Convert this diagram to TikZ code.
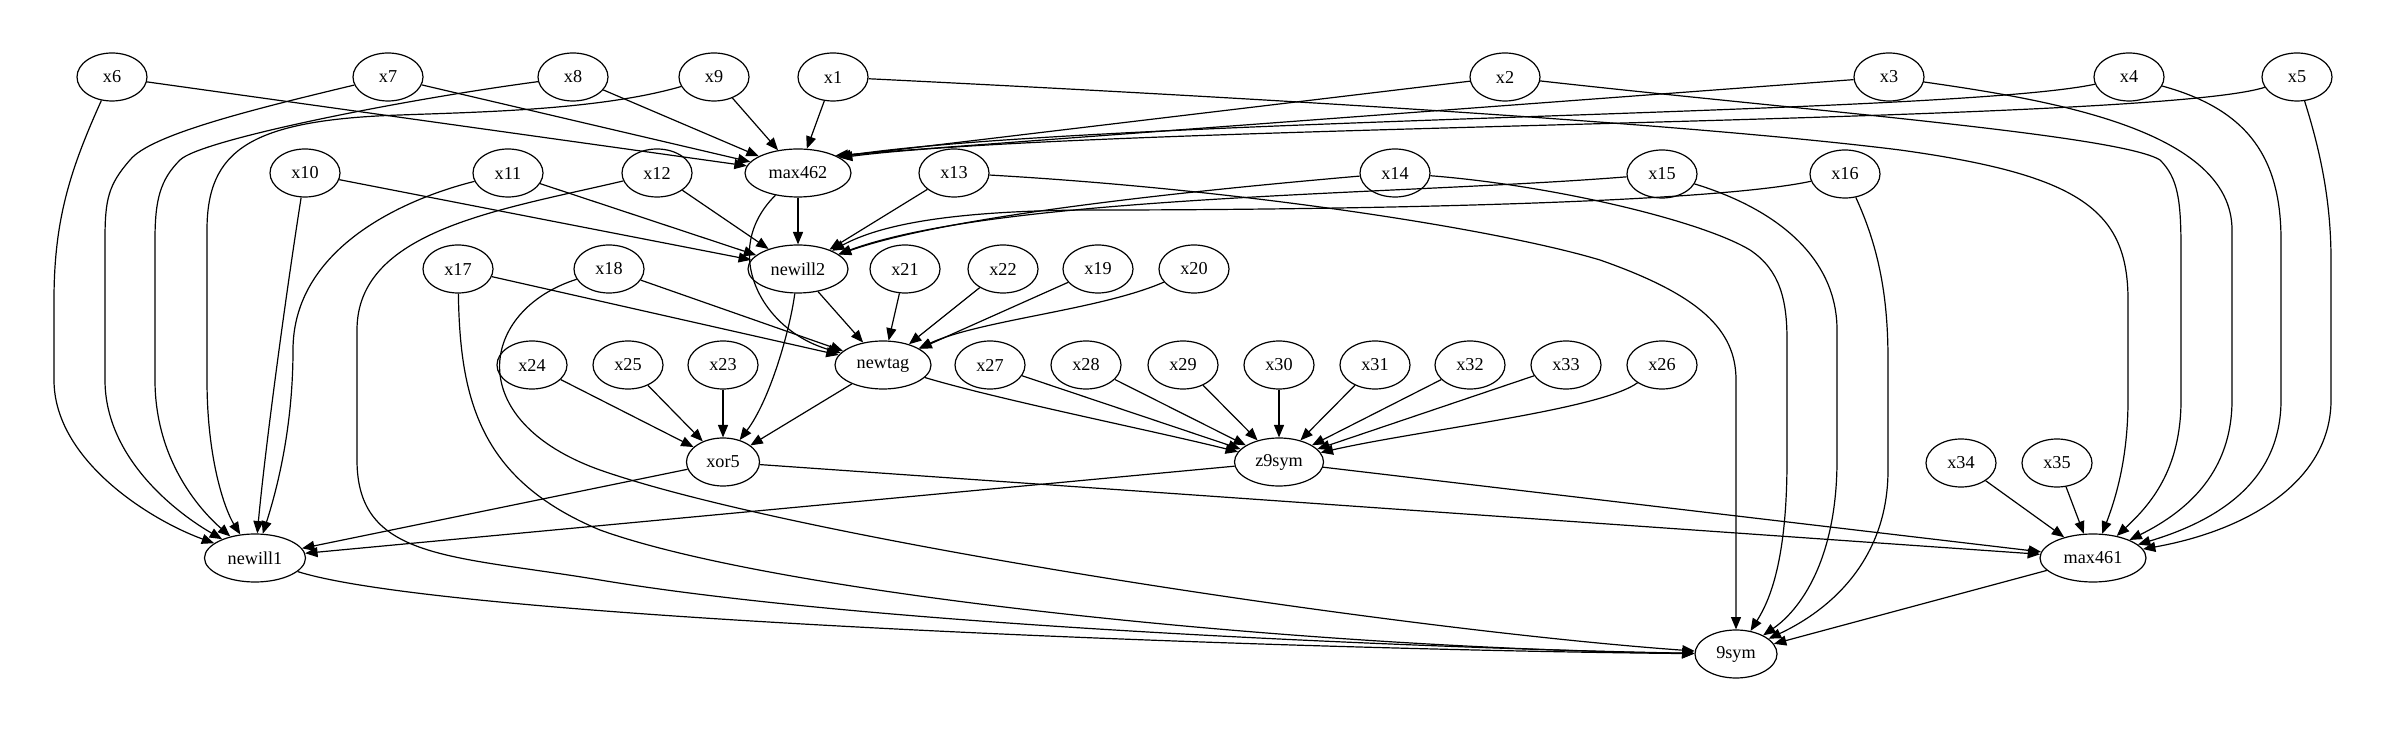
\documentclass[tikz,border=0pt]{standalone}
\usepackage{fontspec}
\setmainfont{Liberation Serif}
\usetikzlibrary{shapes.geometric,arrows.meta}
\begin{document}
\begin{tikzpicture}[x=0.5pt,y=-0.5pt,
 gn/.style={ellipse,draw,line width=0.6pt,inner sep=0pt,minimum width=35pt,minimum height=24pt,font=\fontsize{9.1}{10}\selectfont},
 e/.style={line width=0.6pt,-{Triangle[length=6.2pt,width=5pt]}}]
\useasboundingbox (0,0) rectangle (2387,731);
% row 1
\node[gn] (x6) at (112,77) {x6};
\node[gn] (x7) at (388,77) {x7};
\node[gn] (x8) at (573,77) {x8};
\node[gn] (x9) at (714,77) {x9};
\node[gn] (x1) at (833,77) {x1};
\node[gn] (x2) at (1505,77) {x2};
\node[gn] (x3) at (1889,77) {x3};
\node[gn] (x4) at (2129,77) {x4};
\node[gn] (x5) at (2297,77) {x5};
% row 2
\node[gn] (x10) at (305,173) {x10};
\node[gn] (x11) at (508,173) {x11};
\node[gn] (x12) at (657,173) {x12};
\node[gn,minimum width=53pt] (max462) at (798,173) {max462};
\node[gn] (x13) at (954,173) {x13};
\node[gn] (x14) at (1395,173) {x14};
\node[gn] (x15) at (1662,174) {x15};
\node[gn] (x16) at (1845,174) {x16};
% row 3
\node[gn] (x17) at (458,269) {x17};
\node[gn] (x18) at (609,269) {x18};
\node[gn,minimum width=50pt] (newill2) at (798,269) {newill2};
\node[gn] (x21) at (905,269) {x21};
\node[gn] (x22) at (1003,269) {x22};
\node[gn] (x19) at (1098,269) {x19};
\node[gn] (x20) at (1194,269) {x20};
% row 4
\node[gn] (x24) at (532,365) {x24};
\node[gn] (x25) at (628,365) {x25};
\node[gn] (x23) at (723,365) {x23};
\node[gn,minimum width=48pt] (newtag) at (883,365) {newtag};
\node[gn] (x27) at (990,365) {x27};
\node[gn] (x28) at (1086,365) {x28};
\node[gn] (x29) at (1183,365) {x29};
\node[gn] (x30) at (1279,365) {x30};
\node[gn] (x31) at (1375,365) {x31};
\node[gn] (x32) at (1470,365) {x32};
\node[gn] (x33) at (1566,365) {x33};
\node[gn] (x26) at (1662,365) {x26};
% row 5
\node[gn,minimum width=36.5pt] (xor5) at (723,462) {xor5};
\node[gn,minimum width=44.5pt] (z9sym) at (1279,462) {z9sym};
\node[gn] (x34) at (1961,463) {x34};
\node[gn] (x35) at (2057,463) {x35};
% row 6
\node[gn,minimum width=50.5pt] (newill1) at (255,558) {newill1};
\node[gn,minimum width=53pt] (max461) at (2093,558) {max461};
% row 7
\node[gn,minimum width=41pt] (9sym) at (1736,654) {9sym};

% into max462
\draw[e] (x6) -- (max462);
\draw[e] (x7) -- (max462);
\draw[e] (x8) -- (max462);
\draw[e] (x9) -- (max462);
\draw[e] (x1) -- (max462);
\draw[e] (x2) -- (max462.22);
\draw[e] (x3) -- (max462.25);
\draw[e] (x4) .. controls (1950,115) and (1100,118) .. (max462.22);
\draw[e] (x5) .. controls (2150,124) and (1100,124) .. (max462.20);

% into max461
\draw[e] (x1) .. controls (1300,100) and (1700,125) .. (1900,150) .. controls (2080,175) and (2128,210) .. (2128,300) -- (2128,400) .. controls (2128,460) and (2115,500) .. (max461);
\draw[e] (x2) .. controls (1800,110) and (2120,135) .. (2160,160) .. controls (2178,178) and (2181,200) .. (2181,250) -- (2181,400) .. controls (2181,470) and (2150,505) .. (max461);
\draw[e] (x3) .. controls (2050,100) and (2232,130) .. (2232,230) -- (2232,400) .. controls (2232,470) and (2190,510) .. (max461);
\draw[e] (x4) .. controls (2250,110) and (2281,160) .. (2281,240) -- (2281,400) .. controls (2281,480) and (2220,520) .. (max461);
\draw[e] (x5) .. controls (2320,150) and (2331,200) .. (2331,260) -- (2331,400) .. controls (2331,480) and (2250,530) .. (max461);
\draw[e] (x34) -- (max461);
\draw[e] (x35) -- (max461);
\draw[e] (xor5) -- (max461);
\draw[e] (z9sym) -- (max461);

% into newill1
\draw[e] (x6) .. controls (70,170) and (54,220) .. (54,300) -- (54,380) .. controls (54,460) and (150,520) .. (newill1);
\draw[e] (x7) .. controls (250,110) and (150,135) .. (130,160) .. controls (108,185) and (105,200) .. (105,240) -- (105,380) .. controls (105,460) and (180,515) .. (newill1);
\draw[e] (x8) .. controls (400,100) and (200,140) .. (180,160) .. controls (160,180) and (155,200) .. (155,240) -- (155,380) .. controls (155,460) and (200,510) .. (newill1);
\draw[e] (x9) .. controls (600,110) and (480,112) .. (400,115) .. controls (250,120) and (207,150) .. (207,230) -- (207,380) .. controls (207,460) and (225,510) .. (newill1);
\draw[e] (x10) .. controls (285,300) and (265,450) .. (newill1);
\draw[e] (x11) .. controls (400,200) and (293,250) .. (293,350) .. controls (293,420) and (280,480) .. (newill1);
\draw[e] (xor5) -- (newill1);
\draw[e] (z9sym) -- (newill1);

% into newill2
\draw[e] (max462) -- (newill2);
\draw[e] (x10) -- (newill2);
\draw[e] (x11) -- (newill2);
\draw[e] (x12) -- (newill2);
\draw[e] (x13) -- (newill2);
\draw[e] (x14) .. controls (1200,190) and (950,215) .. (newill2);
\draw[e] (x15) .. controls (1400,195) and (1000,195) .. (newill2);
\draw[e] (x16) .. controls (1700,205) and (1300,210) .. (1100,210) .. controls (950,210) and (880,225) .. (newill2);

% into newtag
\draw[e] (newill2) -- (newtag);
\draw[e] (max462) .. controls (720,250) and (760,330) .. (newtag);
\draw[e] (x17) -- (newtag);
\draw[e] (x18) -- (newtag);
\draw[e] (x21) -- (newtag);
\draw[e] (x22) -- (newtag);
\draw[e] (x19) -- (newtag);
\draw[e] (x20) .. controls (1100,310) and (980,320) .. (newtag);

% into xor5
\draw[e] (x24) -- (xor5);
\draw[e] (x25) -- (xor5);
\draw[e] (x23) -- (xor5);
\draw[e] (newill2) .. controls (790,330) and (770,400) .. (xor5);
\draw[e] (newtag) -- (xor5);

% into z9sym
\draw[e] (newtag) .. controls (1000,400) and (1150,430) .. (z9sym);
\draw[e] (x27) -- (z9sym);
\draw[e] (x28) -- (z9sym);
\draw[e] (x29) -- (z9sym);
\draw[e] (x30) -- (z9sym);
\draw[e] (x31) -- (z9sym);
\draw[e] (x32) -- (z9sym);
\draw[e] (x33) -- (z9sym);
\draw[e] (x26) .. controls (1600,410) and (1420,430) .. (z9sym);

% into 9sym
\draw[e] (max461) -- (9sym);
\draw[e] (newill1) .. controls (450,620) and (1300,650) .. (9sym);
\draw[e] (x12) .. controls (500,210) and (357,230) .. (357,330) -- (357,460) .. controls (357,560) and (450,555) .. (600,580) .. controls (900,630) and (1500,650) .. (9sym);
\draw[e] (x17) .. controls (460,400) and (480,480) .. (600,530) .. controls (780,595) and (1300,648) .. (9sym);
\draw[e] (x18) .. controls (480,310) and (460,420) .. (600,470) .. controls (800,540) and (1400,630) .. (9sym);
\draw[e] (x13) .. controls (1250,190) and (1500,230) .. (1600,260) .. controls (1700,295) and (1736,330) .. (1736,380) -- (9sym);
\draw[e] (x14) .. controls (1550,185) and (1700,220) .. (1750,250) .. controls (1780,270) and (1787,300) .. (1787,340) -- (1787,460) .. controls (1787,560) and (1770,600) .. (9sym);
\draw[e] (x15) .. controls (1780,210) and (1837,260) .. (1837,330) -- (1837,460) .. controls (1837,560) and (1800,610) .. (9sym);
\draw[e] (x16) .. controls (1880,250) and (1888,300) .. (1888,360) -- (1888,470) .. controls (1888,560) and (1830,610) .. (9sym);
\end{tikzpicture}
\end{document}
